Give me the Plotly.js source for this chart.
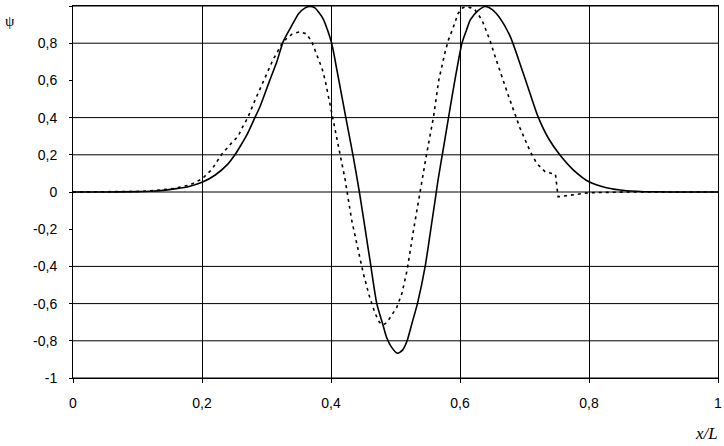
<!DOCTYPE html>
<html>
<head>
<meta charset="utf-8">
<script src="https://cdn.plot.ly/plotly-3.0.1.min.js"></script>
<style>
  html, body { margin: 0; padding: 0; background: #fff; }
  #chart { width: 724px; height: 446px; }
</style>
</head>
<body>
<div id="chart"></div>
<script>
// Solid curve (psi)
const solidX = [0, 0.05, 0.1, 0.12, 0.14, 0.16, 0.18, 0.2, 0.22, 0.24, 0.251, 0.26, 0.27, 0.282, 0.29, 0.305,
  0.316, 0.326, 0.34, 0.35, 0.36, 0.367, 0.375, 0.388, 0.401, 0.41, 0.423, 0.434, 0.444, 0.453, 0.461, 0.471,
  0.481, 0.486, 0.493, 0.503, 0.511, 0.518, 0.526, 0.534, 0.546, 0.556, 0.562, 0.566, 0.575, 0.582, 0.592,
  0.603, 0.61, 0.616, 0.628, 0.639, 0.65, 0.662, 0.678, 0.693, 0.706, 0.721, 0.737, 0.755, 0.776, 0.8,
  0.827, 0.858, 0.9, 1];
const solidY = [0, 0, 0.002, 0.004, 0.009, 0.018, 0.03, 0.052, 0.09, 0.15, 0.2, 0.25, 0.31, 0.4, 0.46, 0.6,
  0.7, 0.81, 0.9, 0.96, 0.99, 0.998, 0.99, 0.93, 0.8, 0.64, 0.4, 0.2, 0, -0.2, -0.38, -0.6,
  -0.72, -0.78, -0.83, -0.867, -0.85, -0.8, -0.7, -0.6, -0.4, -0.17, -0.03, 0.065, 0.25, 0.396, 0.6,
  0.8, 0.87, 0.925, 0.975, 0.997, 0.98, 0.934, 0.835, 0.69, 0.557, 0.405, 0.289, 0.199, 0.118, 0.055,
  0.023, 0.007, 0.001, 0];

// Dashed curve
const dashX = [0, 0.05, 0.1, 0.12, 0.14, 0.155, 0.181, 0.2, 0.215, 0.23, 0.245, 0.256, 0.263, 0.271, 0.283,
  0.296, 0.31, 0.326, 0.34, 0.352, 0.362, 0.37, 0.378, 0.386, 0.391, 0.398, 0.405, 0.411, 0.417, 0.422,
  0.427, 0.432, 0.437, 0.444, 0.45, 0.459, 0.468, 0.475, 0.481, 0.487, 0.494, 0.502, 0.51, 0.518, 0.528,
  0.537, 0.541, 0.548, 0.559, 0.567, 0.577, 0.582, 0.589, 0.597, 0.604, 0.61, 0.617, 0.623, 0.634, 0.647,
  0.652, 0.662, 0.672, 0.683, 0.693, 0.701, 0.709, 0.719, 0.732, 0.748, 0.752, 0.754, 0.8, 0.86, 1];
const dashY = [0, 0, 0.003, 0.006, 0.012, 0.018, 0.038, 0.07, 0.12, 0.2, 0.26, 0.3, 0.35, 0.4, 0.5,
  0.6, 0.71, 0.81, 0.85, 0.862, 0.85, 0.81, 0.74, 0.665, 0.6, 0.478, 0.35, 0.244, 0.155, 0.065,
  -0.043, -0.15, -0.23, -0.348, -0.437, -0.554, -0.65, -0.7, -0.715, -0.7, -0.66, -0.62, -0.545, -0.42, -0.204,
  -0.016, 0.047, 0.2, 0.405, 0.6, 0.754, 0.817, 0.88, 0.96, 0.99, 0.996, 0.99, 0.98, 0.925, 0.81,
  0.754, 0.647, 0.548, 0.44, 0.344, 0.28, 0.217, 0.154, 0.109, 0.095, -0.025, -0.025, -0.004, 0, 0];

// Axes
const xTicks = [0, 0.2, 0.4, 0.6, 0.8, 1];
const xTickText = ['0', '0,2', '0,4', '0,6', '0,8', '1'];
const yTicks = [-1, -0.8, -0.6, -0.4, -0.2, 0, 0.2, 0.4, 0.6, 0.8, 1];
const yTickText = ['-1', '-0,8', '-0,6', '-0,4', '-0,2', '0', '0,2', '0,4', '0,6', '0,8', '1'];
// horizontal grid lines actually drawn in the original (no line at 0.6 and -0.2)
const yGrid = [1, 0.8, 0.4, 0.2, 0, -0.4, -0.6, -0.8, -1];

const tickFont = { family: 'Liberation Sans, Arial, sans-serif', size: 14, color: '#000' };

const traces = [
  {
    x: solidX, y: solidY, type: 'scatter', mode: 'lines',
    line: { color: '#000', width: 1.6, shape: 'spline', smoothing: 0.6 }, hoverinfo: 'skip'
  },
  {
    x: dashX, y: dashY, type: 'scatter', mode: 'lines',
    line: { color: '#000', width: 1.6, dash: '3px,4px' }, hoverinfo: 'skip'
  }
];

const layout = {
  width: 724,
  height: 446,
  margin: { l: 73, r: 6, t: 6, b: 68 },
  paper_bgcolor: '#fff',
  plot_bgcolor: '#fff',
  showlegend: false,
  xaxis: {
    range: [0, 1],
    tickvals: xTicks,
    ticktext: xTickText,
    tickfont: tickFont,
    showgrid: true,
    gridcolor: '#000',
    gridwidth: 1,
    zeroline: false,
    showline: true,
    linecolor: '#000',
    linewidth: 1,
    mirror: true,
    ticks: 'outside',
    ticklen: 4,
    tickcolor: '#000',
    ticklabelstandoff: 8
  },
  yaxis: {
    range: [-1, 1],
    tickvals: yTicks,
    ticktext: yTickText,
    tickfont: tickFont,
    showgrid: false,
    zeroline: false,
    showline: true,
    linecolor: '#000',
    linewidth: 1,
    mirror: true,
    ticks: 'outside',
    ticklen: 3,
    tickcolor: '#000',
    ticklabelstandoff: 9
  },
  shapes: yGrid.map(v => ({
    type: 'line', xref: 'paper', yref: 'y',
    x0: 0, x1: 1, y0: v, y1: v,
    line: { color: '#000', width: 1 },
    layer: 'below'
  })),
  annotations: [
    {
      text: 'ψ', xref: 'paper', yref: 'paper', x: -0.108, y: 0.96,
      xanchor: 'left', yanchor: 'middle', showarrow: false,
      font: { family: 'Liberation Serif, Times New Roman, serif', size: 15, color: '#000' }
    },
    {
      text: '<i>x/L</i>', xref: 'paper', yref: 'paper', x: 1.003, y: -0.148,
      xanchor: 'right', yanchor: 'middle', showarrow: false,
      font: { family: 'Liberation Serif, Times New Roman, serif', size: 17, color: '#000' }
    }
  ]
};

Plotly.newPlot('chart', traces, layout, { displayModeBar: false, staticPlot: true });
</script>
</body>
</html>
